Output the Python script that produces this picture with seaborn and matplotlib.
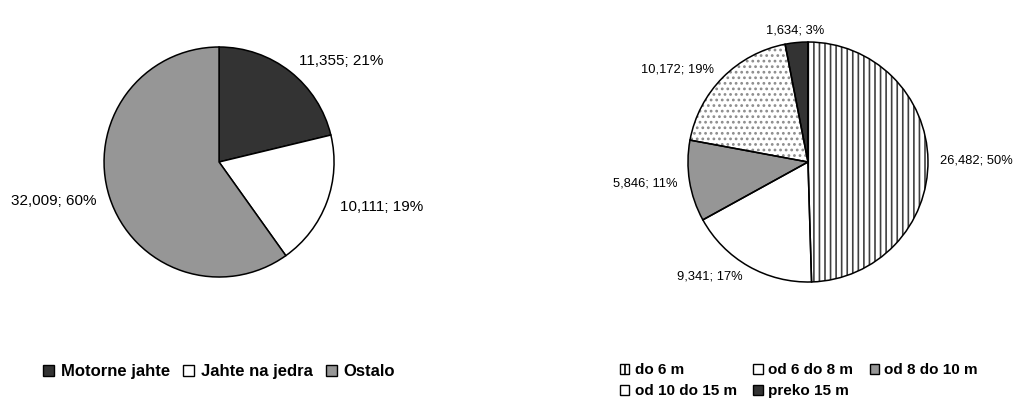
import matplotlib
matplotlib.use("Agg")
import matplotlib.pyplot as plt
from matplotlib.patches import Patch
import seaborn as sns

# left pie: vessel type
type_labels = ["Motorne jahte", "Jahte na jedra", "Ostalo"]
type_values = [11355, 10111, 32009]
type_pct = [21, 19, 60]

# right pie: vessel length
len_labels = ["do 6 m", "od 6 do 8 m", "od 8 do 10 m", "od 10 do 15 m", "preko 15 m"]
len_values = [26482, 9341, 5846, 10172, 1634]
len_pct = [50, 17, 11, 19, 3]

sns.set_theme(style="white")
plt.rcParams["font.family"] = ["Liberation Sans", "DejaVu Sans"]
plt.rcParams["hatch.linewidth"] = 1.2
plt.rcParams["legend.labelcolor"] = "black"

dark, mid = "#333333", "#969696"

fig = plt.figure(figsize=(10.16, 4.03), dpi=100)

# ---- left pie
ax1 = fig.add_axes([0.0741, 0.2413, 0.283, 0.7134])
colors1 = [dark, "white", mid]
wedges1, texts1 = ax1.pie(
    type_values, colors=colors1, startangle=90, counterclock=False,
    labels=[f"{v:,}; {p}%" for v, p in zip(type_values, type_pct)],
    labeldistance=1.12,
    wedgeprops=dict(edgecolor="black", linewidth=1.1),
    textprops=dict(fontsize=11, color="black"),
)
ax1.set_aspect("equal")

h1 = [Patch(facecolor=c, edgecolor="black", linewidth=1) for c in colors1]
fig.legend(h1, type_labels, loc="center", bbox_to_anchor=(219 / 1016, 0.077), ncol=3,
           frameon=False, handlelength=0.65, handleheight=0.65, handletextpad=0.4,
           columnspacing=0.8, borderpad=0, prop=dict(weight="bold", size=12))

# ---- right pie
ax2 = fig.add_axes([0.6476, 0.2258, 0.2953, 0.7444])
colors2 = ["white", "white", mid, "white", dark]
hatches2 = ["|||", "", "", "...", ""]
hcolor2 = ["#404040", "black", "black", "#8c8c8c", "black"]
wedges2, texts2 = ax2.pie(
    len_values, colors=colors2, startangle=90, counterclock=False,
    labels=[f"{v:,}; {p}%" for v, p in zip(len_values, len_pct)],
    labeldistance=1.1,
    wedgeprops=dict(linewidth=0),
    textprops=dict(fontsize=9.3, color="black"),
)
for w, h, hc in zip(wedges2, hatches2, hcolor2):
    w.set_hatch(h)
    w.set_edgecolor(hc)
texts2[4].set_horizontalalignment("center")
# outline pass
ax2.pie(len_values, colors=["none"] * len(len_values), startangle=90, counterclock=False,
        wedgeprops=dict(edgecolor="black", linewidth=1.1))
ax2.set_aspect("equal")

legend_hatch = ["|", "", "", ".", ""]
h2 = [Patch(facecolor=c, edgecolor="black", hatch=h, linewidth=1)
      for c, h in zip(colors2, legend_hatch)]
order = [0, 3, 1, 4, 2]  # row-wise filling like the original
fig.legend([h2[i] for i in order], [len_labels[i] for i in order],
           loc="center", bbox_to_anchor=(799 / 1016, 0.055), ncol=3,
           frameon=False, handlelength=0.6, handleheight=0.6, handletextpad=0.35,
           columnspacing=1.1, labelspacing=0.45, borderpad=0,
           prop=dict(weight="bold", size=11))

fig.savefig("out.png", dpi=100, facecolor="white")
